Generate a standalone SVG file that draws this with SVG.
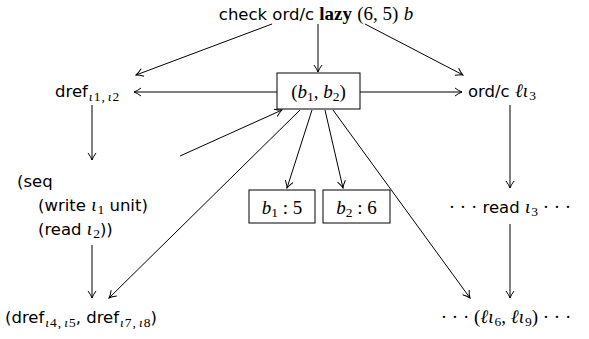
<svg xmlns="http://www.w3.org/2000/svg" width="589" height="339" viewBox="0 0 589 339">
<style>
text{font-family:"DejaVu Sans","Liberation Sans",sans-serif;font-size:16.5px;fill:#000}
.m{font-family:"Liberation Serif",serif;font-style:italic;font-size:19px}
.r{font-family:"Liberation Serif",serif;font-style:normal;font-size:19px}
.b{font-family:"Liberation Serif",serif;font-weight:bold;font-size:19px}
.s{font-size:13.5px}
.box{fill:#fff;stroke:#000;stroke-width:1}
.c line{stroke:#000;stroke-width:1;fill:none;marker-end:url(#a)}
</style>
<defs>
<marker id="a" viewBox="-8 -5 9 10" markerWidth="9" markerHeight="10" refX="0" refY="0" orient="auto" markerUnits="userSpaceOnUse">
<path d="M-7,-4 Q-3,-1 0,0 Q-3,1 -7,4" fill="none" stroke="#000" stroke-width="1"/>
</marker>
</defs>
<g class="c">
<line x1="272" y1="24" x2="136" y2="75"/>
<line x1="318" y1="24" x2="318" y2="72"/>
<line x1="365" y1="24" x2="463" y2="75"/>
<line x1="277" y1="92" x2="134" y2="92"/>
<line x1="360" y1="92" x2="462" y2="92"/>
<line x1="92" y1="105" x2="92" y2="160"/>
<line x1="180" y1="156" x2="282" y2="110"/>
<line x1="300" y1="110" x2="109" y2="298"/>
<line x1="312" y1="110" x2="287" y2="188"/>
<line x1="325" y1="110" x2="343" y2="188"/>
<line x1="333" y1="110" x2="470" y2="298"/>
<line x1="510" y1="105" x2="510" y2="188"/>
<line x1="92" y1="245" x2="92" y2="298"/>
<line x1="510" y1="224" x2="510" y2="298"/>
</g>
<g id="top">
<text x="316" y="20" text-anchor="middle">check ord/c <tspan class="b">lazy</tspan> <tspan class="r">(6, 5)</tspan> <tspan class="m">b</tspan></text>
</g>
<g id="dref12">
<text x="55" y="97">dref<tspan class="m s" dy="4" dx="1">ι</tspan><tspan class="r s" dx="1">1</tspan><tspan class="r s" dx="1">,</tspan><tspan class="m s" dx="3">ι</tspan><tspan class="r s" dx="1">2</tspan></text>
</g>
<g id="pair">
<rect class="box" x="277" y="73" width="83" height="36"/>
<text x="318.5" y="98" text-anchor="middle" class="r">(<tspan class="m">b</tspan><tspan class="s" dy="3">1</tspan><tspan dy="-3">, </tspan><tspan class="m">b</tspan><tspan class="s" dy="3">2</tspan><tspan dy="-3">)</tspan></text>
</g>
<g id="ordc3">
<text x="468" y="97">ord/c <tspan class="m">ℓι</tspan><tspan class="r s" dy="3" dx="1">3</tspan></text>
</g>
<g id="seq">
<text x="17" y="187">(seq</text>
<text x="38" y="211">(write <tspan class="m">ι</tspan><tspan class="r s" dy="3" dx="1">1</tspan><tspan dy="-3"> unit)</tspan></text>
<text x="38" y="235">(read <tspan class="m">ι</tspan><tspan class="r s" dy="3" dx="1">2</tspan><tspan dy="-3">))</tspan></text>
</g>
<g id="b1">
<rect class="box" x="249" y="190" width="66" height="33"/>
<text x="282" y="214" text-anchor="middle" class="r"><tspan class="m">b</tspan><tspan class="s" dy="3">1</tspan><tspan dy="-3"> : 5</tspan></text>
</g>
<g id="b2">
<rect class="box" x="323" y="190" width="67" height="33"/>
<text x="356.5" y="214" text-anchor="middle" class="r"><tspan class="m">b</tspan><tspan class="s" dy="3">2</tspan><tspan dy="-3"> : 6</tspan></text>
</g>
<g id="read3">
<text x="510" y="213" text-anchor="middle"><tspan class="r">· · ·</tspan> read <tspan class="m">ι</tspan><tspan class="r s" dy="3" dx="1">3</tspan><tspan class="r" dy="-3"> · · ·</tspan></text>
</g>
<g id="drefpair">
<text x="5" y="323">(dref<tspan class="m s" dy="4" dx="1">ι</tspan><tspan class="r s" dx="1">4</tspan><tspan class="r s" dx="1">,</tspan><tspan class="m s" dx="3">ι</tspan><tspan class="r s" dx="1">5</tspan><tspan dy="-4">, dref</tspan><tspan class="m s" dy="4" dx="1">ι</tspan><tspan class="r s" dx="1">7</tspan><tspan class="r s" dx="1">,</tspan><tspan class="m s" dx="3">ι</tspan><tspan class="r s" dx="1">8</tspan><tspan dy="-4">)</tspan></text>
</g>
<g id="lpair">
<text x="506" y="323" text-anchor="middle" class="r">· · · (<tspan class="m">ℓι</tspan><tspan class="s" dy="3" dx="1">6</tspan><tspan dy="-3">, </tspan><tspan class="m">ℓι</tspan><tspan class="s" dy="3" dx="1">9</tspan><tspan dy="-3">) · · ·</tspan></text>
</g>
</svg>
